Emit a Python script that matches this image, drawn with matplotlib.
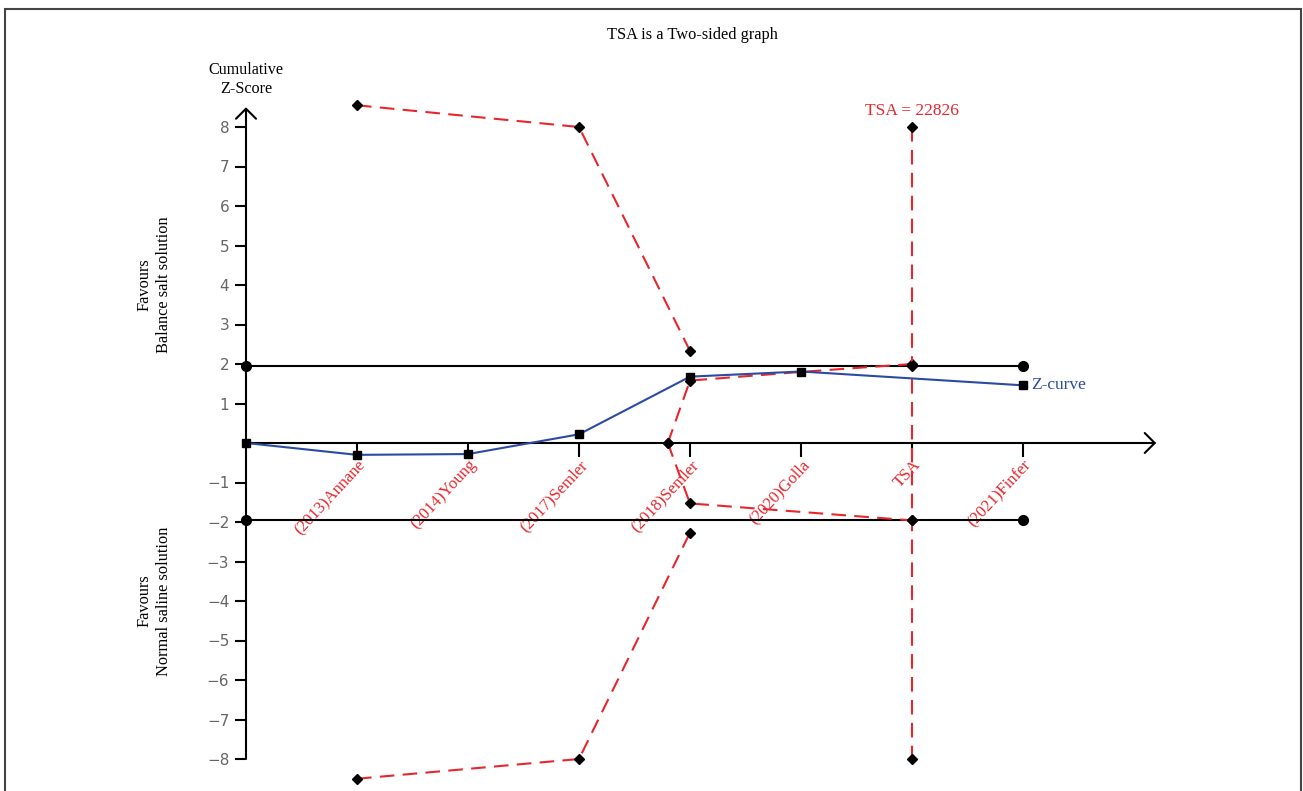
import numpy as np
import matplotlib.pyplot as plt
from matplotlib.patches import Rectangle

# trials in order of the cumulative meta-analysis
studies = ['(2013)Annane', '(2014)Young', '(2017)Semler', '(2018)Semler',
           '(2020)Golla', 'TSA', '(2021)Finfer']
study_x = [1, 2, 3, 4, 5, 6, 7]

# cumulative Z-curve (no point at the TSA position)
z_x = [0, 1, 2, 3, 4, 5, 7]
z_val = [0, -0.30, -0.28, 0.22, 1.68, 1.81, 1.46]

# trial sequential monitoring boundaries
upper_x = [1, 3, 4]
upper_val = [8.55, 8.0, 2.33]
lower_x = [1, 3, 4]
lower_val = [-8.5, -8.0, -2.27]

# futility (inner wedge) boundaries
inner_up_x = [3.8, 4, 5, 6]
inner_up_val = [0, 1.58, 1.8, 2.0]
inner_lo_x = [3.8, 4, 6]
inner_lo_val = [0, -1.53, -1.96]

conv_x = [0, 7]
conv_val = 1.96
tsa_x = 6
tsa_val = [8, -8]
tsa_n = 22826

yticks = [-8, -7, -6, -5, -4, -3, -2, -1, 1, 2, 3, 4, 5, 6, 7, 8]

serif = ['Liberation Serif', 'DejaVu Serif']
red = '#e8262c'
blue = '#2b4aa3'

fig = plt.figure(figsize=(13.03, 7.91), dpi=100)
ax = fig.add_axes([0, 0, 1, 1])
# pixel layout: origin at (246, 443), 111 px per trial, 39.5 px per Z unit
ax.set_xlim(-246 / 111, (1303 - 246) / 111)
ax.set_ylim((443 - 791) / 39.5, 443 / 39.5)

for s in ['top', 'right', 'left', 'bottom']:
    ax.spines[s].set_visible(False)
ax.spines['left'].set_position(('data', 0))
ax.spines['bottom'].set_position(('data', 0))

# axis lines with arrow heads
arrow = dict(arrowstyle='->,head_length=0.4,head_width=0.4', lw=1.5,
             color='black', mutation_scale=18, shrinkA=0, shrinkB=0)
ax.annotate('', xy=(0, 8.5), xytext=(0, -8), arrowprops=arrow)
ax.annotate('', xy=(8.2, 0), xytext=(0, 0), arrowprops=arrow)

ax.set_yticks(yticks)
ax.set_yticklabels([f'\u2212{abs(v)}' if v < 0 else str(v) for v in yticks])
ax.tick_params(axis='y', direction='out', length=8, width=1.5, pad=4,
               labelsize=11, labelcolor='#666666')
ax.set_xticks(study_x)
ax.set_xticklabels(studies, rotation=47, ha='right', va='top',
                   rotation_mode='anchor', color=red, family=serif,
                   fontsize=12)
ax.tick_params(axis='x', direction='out', length=10, width=1.5, pad=0)

# conventional boundaries
for v in [conv_val, -conv_val]:
    ax.plot(conv_x, [v, v], color='black', lw=1.5, marker='o', ms=7, zorder=2)

dash = (7, 4)
mk = dict(marker='D', ms=5, mfc='black', mec='black')
ax.plot(upper_x, upper_val, color=red, lw=1.5, dashes=dash, zorder=3, **mk)
ax.plot(lower_x, lower_val, color=red, lw=1.5, dashes=dash, zorder=3, **mk)
ax.plot(inner_up_x, inner_up_val, color=red, lw=1.5, dashes=dash,
        markevery=[0, 1, 3], zorder=3, **mk)
ax.plot(inner_lo_x, inner_lo_val, color=red, lw=1.5, dashes=dash, zorder=3,
        **mk)
ax.plot([tsa_x, tsa_x], tsa_val, color=red, lw=1.5, dashes=dash, zorder=3,
        **mk)
ax.plot([tsa_x, tsa_x], [conv_val, -conv_val], ls='none', zorder=4, **mk)

# Z-curve
ax.plot(z_x, z_val, color=blue, lw=1.5, marker='s', ms=6,
        mfc='black', mec='black', zorder=5)
ax.text(z_x[-1] + 0.07, z_val[-1], 'Z-curve', color=blue, family=serif,
        fontsize=12.5, ha='left', va='center')

ax.text(tsa_x, 8.2, f'TSA = {tsa_n}', color=red, family=serif,
        fontsize=12.5, ha='center', va='bottom')
ax.text(0, 8.75, 'Cumulative\nZ-Score', family=serif, fontsize=11.6,
        ha='center', va='bottom', linespacing=1.25)

ax.text(-0.83, 4.0, 'Favours\nBalance salt solution', family=serif,
        fontsize=11.8, rotation=90, ha='center', va='center', linespacing=1.3)
ax.text(-0.83, -4.0, 'Favours\nNormal saline solution', family=serif,
        fontsize=11.8, rotation=90, ha='center', va='center', linespacing=1.3)

fig.text(692 / 1303, 1 - 35 / 791, 'TSA is a Two-sided graph', family=serif,
         fontsize=11.8, ha='center', va='center')

# frame around the picture
fig.patches.append(Rectangle((5 / 1303, -0.01), 1296 / 1303, 1.01 - 9 / 791,
                             transform=fig.transFigure, fill=False,
                             ec='#444444', lw=1.5))

fig.savefig('out.png', dpi=100)
